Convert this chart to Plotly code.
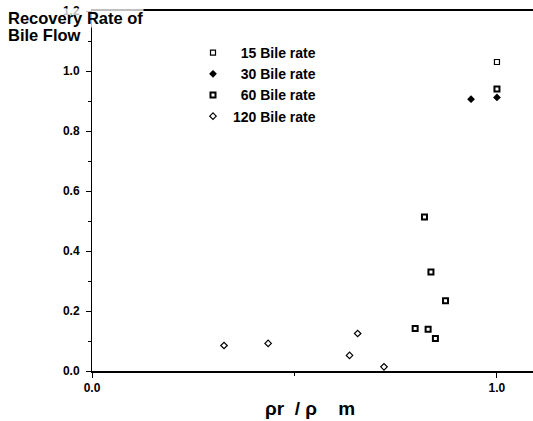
import plotly.graph_objects as go

# Data
x15 = [1.0]
y15 = [1.03]

x30 = [0.936, 1.0]
y30 = [0.906, 0.912]

x60 = [0.821, 0.837, 0.873, 0.798, 0.830, 0.848, 1.0]
y60 = [0.513, 0.330, 0.234, 0.142, 0.139, 0.108, 0.940]

x120 = [0.326, 0.435, 0.636, 0.656, 0.721]
y120 = [0.085, 0.092, 0.052, 0.125, 0.014]

names = ["\u200715 Bile rate", "\u200730 Bile rate", "\u200760 Bile rate", "120 Bile rate"]

yticks = [0.0, 0.2, 0.4, 0.6, 0.8, 1.0, 1.2]
xticks = [0.0, 1.0]

FONT = "Liberation Sans, Arial, sans-serif"

fig = go.Figure()
fig.add_trace(go.Scatter(x=x15, y=y15, mode="markers", name=names[0],
                         marker=dict(symbol="square-open", size=5, color="black", line=dict(width=1.2, color="black"))))
fig.add_trace(go.Scatter(x=x30, y=y30, mode="markers", name=names[1],
                         marker=dict(symbol="diamond", size=6, color="black", line=dict(width=0))))
fig.add_trace(go.Scatter(x=x60, y=y60, mode="markers", name=names[2],
                         marker=dict(symbol="square-open", size=5, color="black", line=dict(width=2.0, color="black"))))
fig.add_trace(go.Scatter(x=x120, y=y120, mode="markers", name=names[3],
                         marker=dict(symbol="diamond-open", size=5, color="black", line=dict(width=1.2, color="black"))))

fig.update_layout(
    width=533, height=421,
    margin=dict(l=92, r=0, t=11, b=50),
    paper_bgcolor="white", plot_bgcolor="white",
    font=dict(family=FONT, color="black", size=12),
    showlegend=True,
    legend=dict(x=(193 - 92) / 441, y=(371 - 37) / 360, xanchor="left", yanchor="top",
                bgcolor="rgba(0,0,0,0)", borderwidth=0,
                font=dict(family=FONT, size=14, color="black", weight="bold"),
                tracegroupgap=0, itemwidth=30),
)

fig.update_xaxes(
    range=[0, 1.089], tickvals=xticks, ticktext=["0.0", "1.0"],
    showline=True, linecolor="black", linewidth=1.5, mirror=True,
    showgrid=False, zeroline=False,
    ticks="outside", ticklen=5, tickcolor="black",
    tickfont=dict(family=FONT, size=12, weight="bold"),
    minor=dict(tickvals=[0.5], ticks="outside", ticklen=3, tickcolor="black", showgrid=False),
)
fig.update_yaxes(
    range=[0, 1.2], tickvals=yticks, ticktext=["0.0", "0.2", "0.4", "0.6", "0.8", "1.0", "1.2"],
    showline=True, linecolor="black", linewidth=1, mirror=False,
    showgrid=False, zeroline=False,
    ticks="outside", ticklen=5, tickcolor="black", ticklabelstandoff=4,
    tickfont=dict(family=FONT, size=12, weight="bold"),
    minor=dict(dtick=0.1, ticks="outside", ticklen=3, tickcolor="black", showgrid=False),
)

# Y-axis title in two tightly spaced lines (as in the reference)
fig.add_annotation(
    text="<b>Recovery Rate of</b>", xref="paper", yref="paper",
    x=-85 / 441, y=(371 - 18) / 360, xanchor="left", yanchor="middle", align="left", showarrow=False,
    font=dict(family=FONT, size=16.5, color="black"), bgcolor="rgba(255,255,255,0.75)",
    borderpad=0,
)
fig.add_annotation(
    text="<b>Bile Flow</b>", xref="paper", yref="paper",
    x=-85 / 441, y=(371 - 35) / 360, xanchor="left", yanchor="middle", align="left", showarrow=False,
    font=dict(family=FONT, size=16.5, color="black"),
    borderpad=0,
)
fig.add_annotation(
    text="<b>\u03c1r\u00a0\u00a0/\u00a0\u03c1\u00a0\u00a0\u00a0\u00a0m</b>", xref="paper", yref="paper",
    x=(310 - 92) / 441, y=-(408 - 371) / 360, xanchor="center", yanchor="middle", showarrow=False,
    font=dict(family=FONT, size=19, color="black"),
)

fig.write_html("out.html")
